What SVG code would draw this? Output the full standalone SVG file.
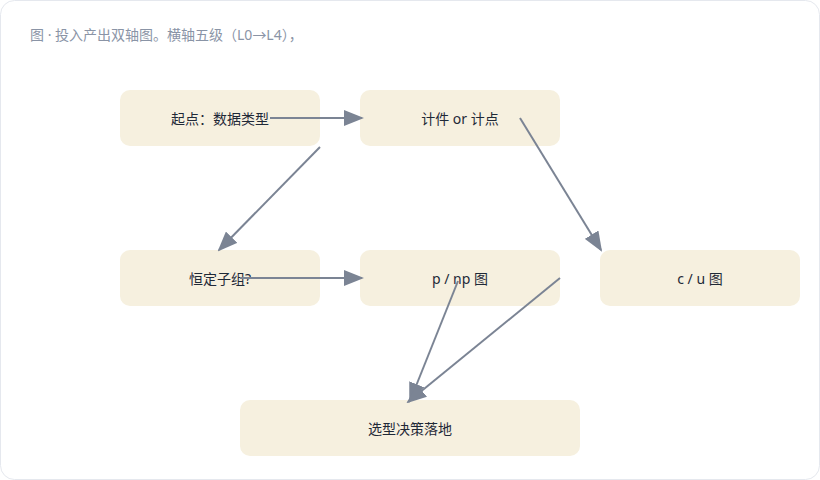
<svg xmlns="http://www.w3.org/2000/svg" width="820" height="480" viewBox="0 0 820 480">
<style>
.n rect{fill:#f6f0df;}
.n text{font-family:"Noto Sans","Noto Sans CJK SC",sans-serif;font-size:14px;fill:#1f2937;text-anchor:middle;dominant-baseline:central;}
.e line{stroke:#7b8494;stroke-width:2;marker-end:url(#ah);}
</style>
<defs><marker id="ah" markerWidth="10" markerHeight="8" refX="9" refY="4" orient="auto" markerUnits="strokeWidth"><path d="M0,0L10,4L0,8Z" fill="#7b8494"/></marker></defs>
<rect x="0.5" y="0.5" width="819" height="479" rx="14" fill="#fff" stroke="#e5e8ee"/>
<text x="30" y="40" font-family="Noto Sans,Noto Sans CJK SC,sans-serif" font-size="14" fill="#8a94a6">图 · 投入产出双轴图。横轴五级（L0→L4），</text>
<g id="A" class="n"><rect x="120" y="90" width="200" height="56" rx="10"/><text x="220" y="118">起点：数据类型</text></g>
<g id="B" class="n"><rect x="360" y="90" width="200" height="56" rx="10"/><text x="460" y="118">计件 or 计点</text></g>
<g id="C" class="n"><rect x="120" y="250" width="200" height="56" rx="10"/><text x="220" y="278">恒定子组?</text></g>
<g id="D" class="n"><rect x="360" y="250" width="200" height="56" rx="10"/><text x="460" y="278">p / np 图</text></g>
<g id="E" class="n"><rect x="600" y="250" width="200" height="56" rx="10"/><text x="700" y="278">c / u 图</text></g>
<g id="F" class="n"><rect x="240" y="400" width="340" height="56" rx="10"/><text x="410" y="428">选型决策落地</text></g>
<g id="edges" class="e">
<line x1="270" y1="118" x2="362" y2="118"/>
<line x1="320" y1="147" x2="219" y2="250"/>
<line x1="520" y1="118" x2="601" y2="250"/>
<line x1="240" y1="278" x2="362" y2="278"/>
<line x1="458" y1="281" x2="410" y2="401"/>
<line x1="560" y1="278" x2="408" y2="402"/>
</g>
</svg>
